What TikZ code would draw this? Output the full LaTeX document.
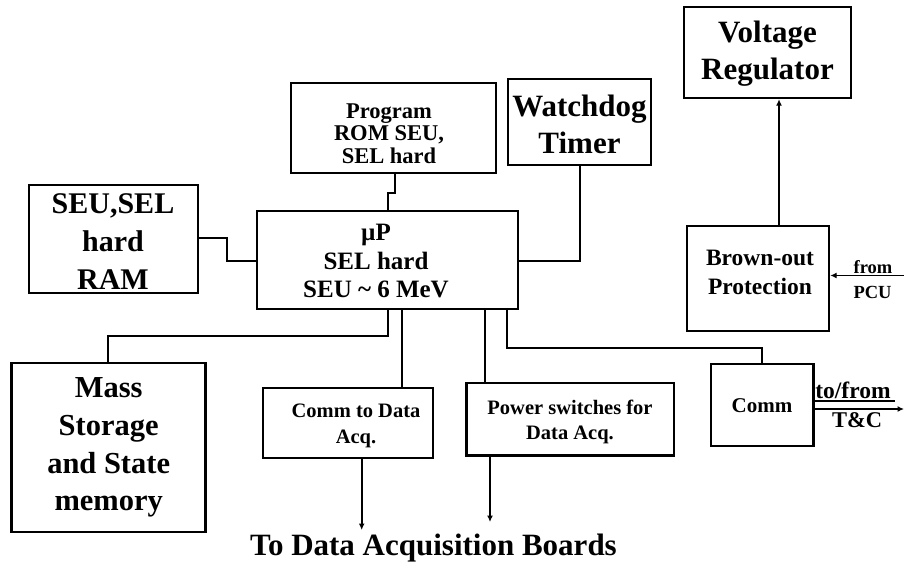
\documentclass[tikz,border=0pt]{standalone}
\usepackage{fontspec}
\setmainfont{Liberation Serif}
\usetikzlibrary{arrows.meta}
\tikzset{
  box/.style={draw, line width=2.4pt, inner sep=0pt},
  conn/.style={line width=2pt},
  arr/.style={line width=1.7pt, -{Latex[length=6.5pt,width=6pt]}},
  txt/.style={inner sep=0pt, align=center, font=\bfseries},
}
\newcommand{\fs}[2]{\fontsize{#1}{#2}\selectfont\bfseries}
\begin{document}
\begin{tikzpicture}[x=1pt,y=-1pt]
\useasboundingbox (0,0) rectangle (904,565);
% boxes
\node[box, minimum width=167pt, minimum height=91pt] (vr) at (767.5,52.5) {};
\node[box, minimum width=143pt, minimum height=86pt] (wd) at (579.5,122) {};
\node[box, minimum width=205pt, minimum height=90pt] (prog) at (393.5,128) {};
\node[box, minimum width=169pt, minimum height=108pt] (ram) at (113.5,239) {};
\node[box, minimum width=261pt, minimum height=98pt, line width=2pt] (mup) at (387.5,260) {};
\node[box, minimum width=142pt, minimum height=105pt] (bo) at (758,278.5) {};
\node[box, minimum width=194pt, minimum height=169pt, line width=2.8pt] (mass) at (108.7,447.5) {};
\node[box, minimum width=170pt, minimum height=70pt, line width=2pt] (cd) at (348.3,423) {};
\node[box, minimum width=207.3pt, minimum height=72.7pt] (pw) at (570.3,419.3) {};
\node[box, minimum width=102.8pt, minimum height=82pt] (comm) at (762.1,405) {};
% texts
\node[txt, font=\fs{31}{37}] (vrT) at (767.5,54) {Voltage\\Regulator};
\node[txt, font=\fs{31}{37}] (wdT) at (579.5,124) {Watchdog\\Timer};
\node[txt, font=\fs{22.5}{22.5}] (progT) at (389,133.4) {Program\\ROM SEU,\\SEL hard};
\node[txt, font=\fs{30}{38}] (ramT) at (113,241.6) {SEU,SEL\\hard\\RAM};
\node[txt, font=\fs{25}{28.5}] (mupT) at (376,261) {µP\\SEL hard\\SEU \textasciitilde{} 6 MeV};
\node[txt, font=\fs{30.5}{37.7}] (massT) at (108.7,447.7) {Mass\\Storage\\and State\\memory};
\node[txt, font=\fs{20.5}{26.7}] (cdT) at (356,426) {Comm to Data\\Acq.};
\node[txt, font=\fs{20.5}{25}] (pwT) at (570,421.5) {Power switches for\\Data Acq.};
\node[txt, font=\fs{21}{25}, anchor=base] (commT) at (762,412.7) {Comm};
\node[txt, font=\fs{23.5}{28.3}] (boT) at (760,272.3) {Brown-out\\Protection};
\node[txt, font=\fs{18.5}{22}, anchor=base] (fromT) at (873,273.5) {from};
\node[txt, font=\fs{18.5}{22}, anchor=base] (pcuT) at (872.5,298) {PCU};
\node[txt, font=\fs{23.5}{26}, anchor=base] (tofromT) at (853,398.5) {to/from};
\node[txt, font=\fs{22.5}{26}, anchor=base] (tcT) at (857,427) {T\&C};
\node[txt, font=\fs{31}{36}, anchor=base] (boards) at (433.5,555) {To Data Acquisition Boards};
% connectors
\draw[conn] (395,0 |- prog.south) |- (387.5,193) -- (387.5,0 |- mup.north);
\draw[conn] (ram.east |- 0,238) -| (227,261) -- (mup.west |- 0,261);
\draw[conn] (mup.east |- 0,261) -| (wd.south);
\draw[conn] (387.5,0 |- mup.south) |- (107.5,336) -- (107.5,0 |- mass.north);
\draw[conn] (401.7,0 |- mup.south) -- (401.7,0 |- cd.north);
\draw[conn] (485,0 |- mup.south) -- (485,0 |- pw.north);
\draw[conn] (506.7,0 |- mup.south) |- (762.1,347.7) -- (comm.north);
\draw[arr] (779,0 |- bo.north) -- (779,0 |- vr.south);
\coordinate (pcu) at (904,275.5);
\draw[arr] (pcu) -- (bo.east |- pcu);
\coordinate (tcu) at (895,401);
\draw[line width=2.4pt] (comm.east |- tcu) -- (tcu);
\coordinate (tc) at (904,409);
\draw[arr, line width=1.5pt] (comm.east |- tc) -- (tc);
\coordinate (da1) at (361.7,530);
\draw[arr] (cd.south -| da1) -- (da1);
\coordinate (da2) at (490,522);
\draw[arr] (pw.south -| da2) -- (da2);
\end{tikzpicture}
\end{document}
